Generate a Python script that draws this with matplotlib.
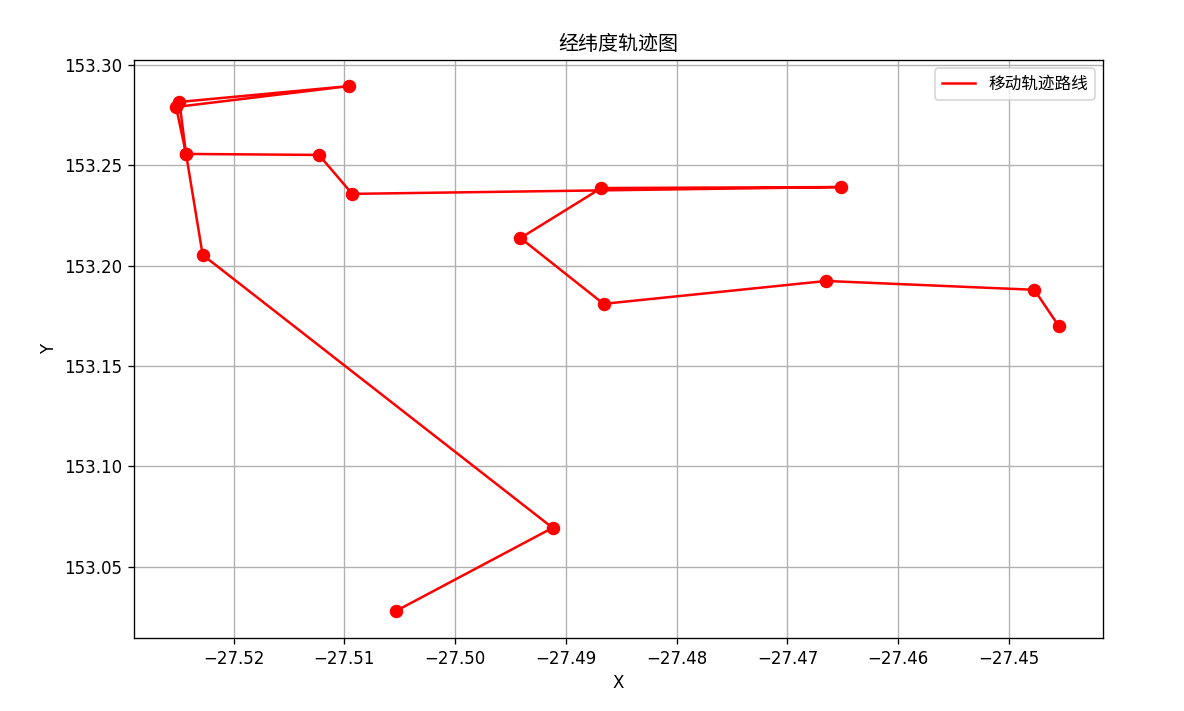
import numpy as np
import matplotlib
matplotlib.use("Agg")
import matplotlib.pyplot as plt

# DejaVu for the numbers, CJK family only as fallback for the Chinese text
plt.rcParams['font.family'] = ['DejaVu Sans', 'Noto Sans CJK SC']

# trajectory points, in path order
xs = [-27.5053, -27.4912, -27.5228, -27.5243, -27.5249, -27.5096, -27.5252,
      -27.5243, -27.5123, -27.5093, -27.4652, -27.4868, -27.4941, -27.4866,
      -27.4665, -27.4477, -27.4455]
ys = [153.0281, 153.0694, 153.2054, 153.2557, 153.2816, 153.2895, 153.2791,
      153.2557, 153.2552, 153.2358, 153.2392, 153.2387, 153.2138, 153.1810,
      153.1924, 153.1880, 153.1700]

title = "经纬度轨迹图"
line_label = "移动轨迹路线"

fig = plt.figure(figsize=(11.84 / 1.2, 7.11 / 1.2), dpi=120)
ax = fig.add_axes([134 / 1184, 1 - 638 / 711, (1103 - 134) / 1184, (638 - 60) / 711])

ax.plot(xs, ys, color='red', linestyle='-', label=line_label)
ax.scatter(xs, ys, color='red', s=50, zorder=3)

ax.set_xlim(-27.529, -27.4415)
ax.set_ylim(153.0145, 153.3025)
ax.set_yticks(np.arange(153.05, 153.301, 0.05))
ax.set_title(title)
ax.set_xlabel("X")
ax.set_ylabel("Y")
ax.grid(True)
ax.legend(loc='upper right')

fig.savefig("out.png", dpi=120)
